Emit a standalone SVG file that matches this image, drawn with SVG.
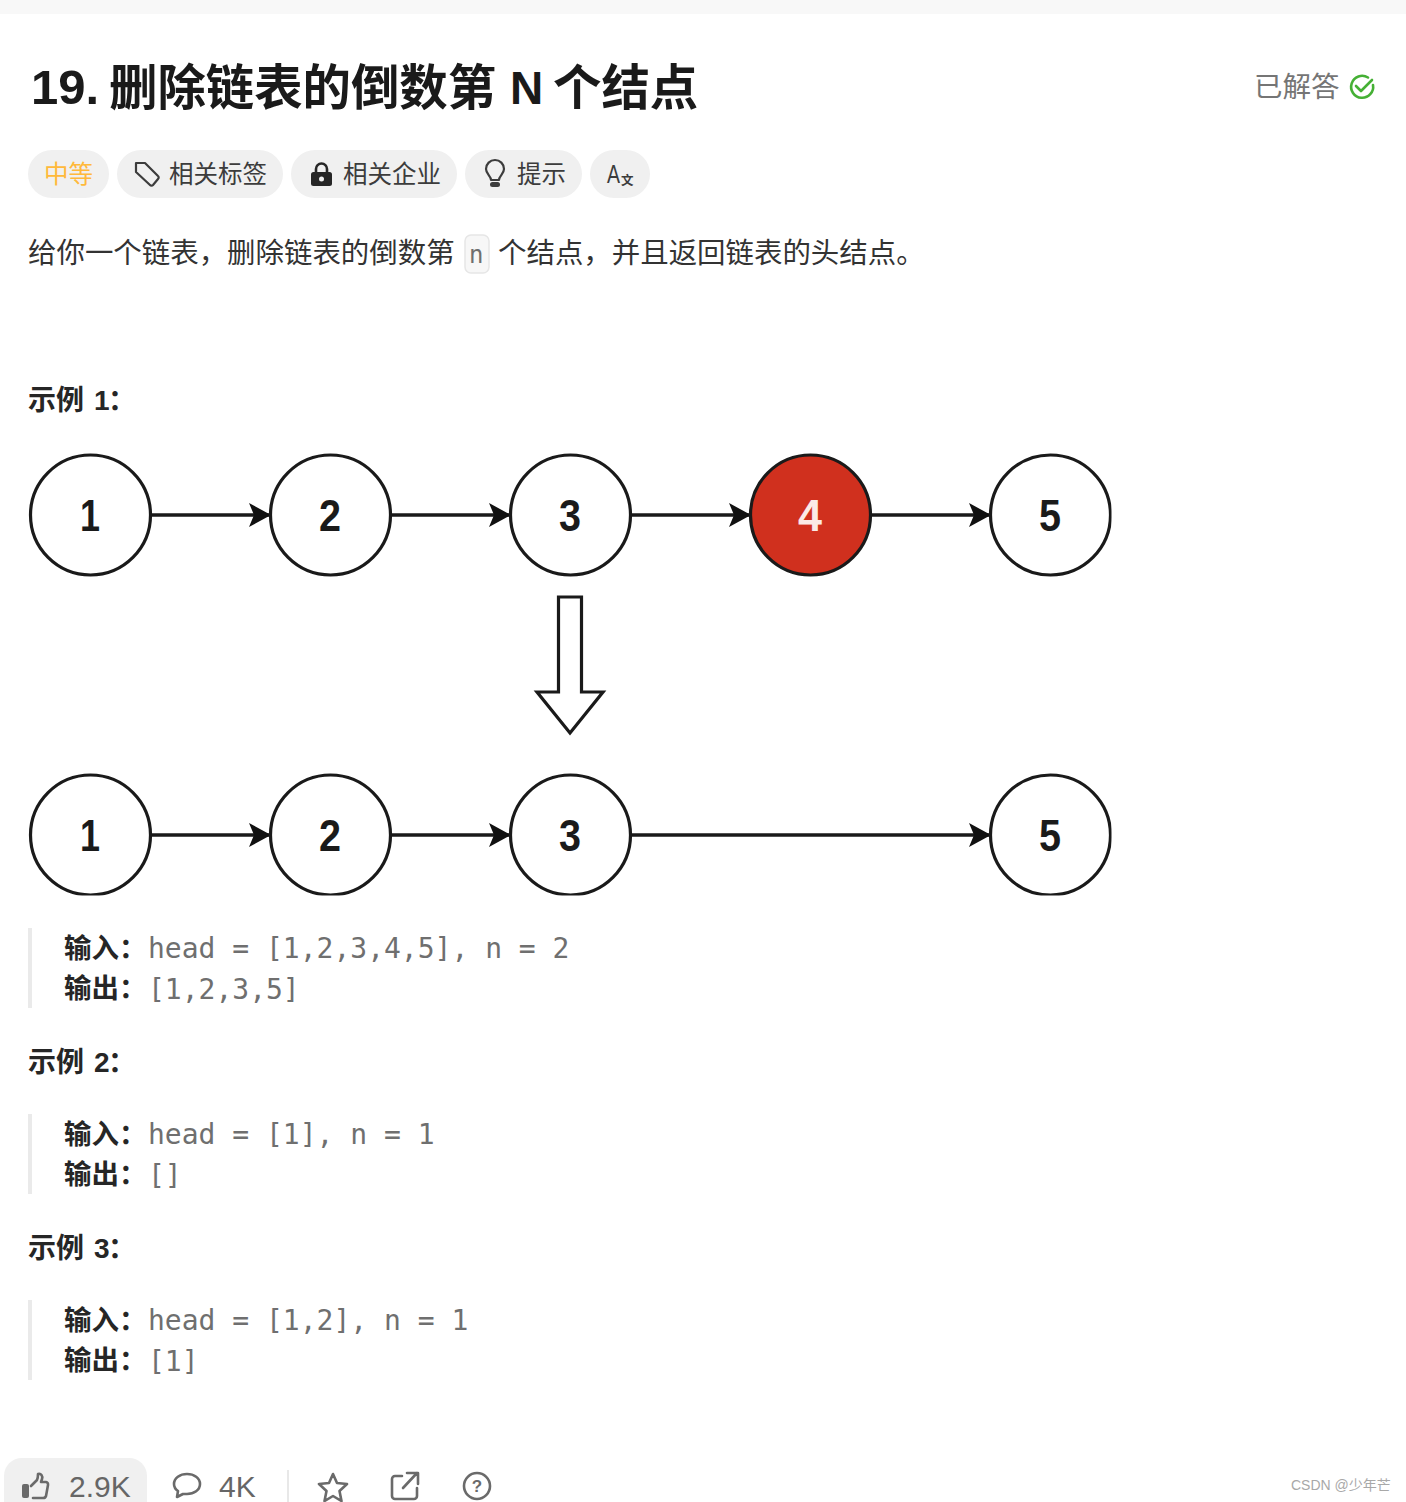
<svg xmlns="http://www.w3.org/2000/svg" width="1406" height="1502" viewBox="0 0 1406 1502">
<style>
text{font-family:"Liberation Sans","Noto Sans CJK SC",sans-serif}
.cjk{font-family:"Noto Sans CJK SC",sans-serif}
.title{font-size:48.400px;font-weight:700;fill:#1a1a1a}
.tag{font-size:24.500px;fill:#3c3c3c}
.pill{fill:#f0f0f0}
.body{font-size:28.450px;fill:#333}
.h{font-size:28px;font-weight:700;fill:#262626}
.lab{font-size:27.500px;font-weight:700;fill:#262626}
.mono{font-family:"DejaVu Sans Mono","Liberation Mono",monospace;font-size:28px;fill:#6f6f6f}
.bar{fill:#eaeaea}
.node{fill:#fff;stroke:#1a1a1a;stroke-width:3.200}
.num{font-size:44px;font-weight:700;fill:#1a1a1a;text-anchor:middle}
.edge{stroke:#1a1a1a;stroke-width:3.500;fill:none;marker-end:url(#ah)}
.ico{fill:none;stroke:#6a6a6a;stroke-width:2.600;stroke-linejoin:round;stroke-linecap:round}
.foot{font-size:30px;fill:#666}
</style>
<defs>
<marker id="ah" markerUnits="userSpaceOnUse" markerWidth="24" markerHeight="24" refX="22" refY="12" orient="auto"><path d="M0 0L22 12L0 24L5 12Z" fill="#111"/></marker>
</defs>
<rect width="1406" height="1502" fill="#fff"/>
<rect width="1406" height="14" fill="#f8f8f8"/>
<g id="header">
<text class="title" x="31" y="104" style="font-size:49px">19.</text>
<text class="title cjk" x="109" y="105">删除链表的倒数第</text>
<text class="title" x="510" y="104" style="font-size:46px">N</text>
<text class="title cjk" x="553" y="105">个结点</text>
<text x="1254" y="97" font-size="28.500" fill="#757575" class="cjk">已解答</text>
<path d="M1373 85a11 11 0 1 1-5-7.500" fill="none" stroke="#45b035" stroke-width="2.600" stroke-linecap="round"/>
<path d="M1356 86l5 5l11-11" fill="none" stroke="#45b035" stroke-width="2.600" stroke-linecap="round" stroke-linejoin="round"/>
</g>
<g id="tags">
<rect class="pill" x="28" y="150" width="81" height="48" rx="24"/>
<text x="44" y="183" font-size="24.500" fill="#ffb93b" class="cjk">中等</text>
<rect class="pill" x="117" y="150" width="166" height="48" rx="24"/>
<path d="M136 163v9l14 13a2 2 0 0 0 3 0l5-6a2 2 0 0 0 0-3l-13-13z" fill="none" stroke="#3c3c3c" stroke-width="2.200" stroke-linejoin="round"/>
<text class="tag cjk" x="169" y="183">相关标签</text>
<rect class="pill" x="291" y="150" width="166" height="48" rx="24"/>
<path d="M316 172v-3a5.500 5.500 0 0 1 11 0v3" fill="none" stroke="#262626" stroke-width="2.600"/>
<rect x="311" y="172" width="21" height="14" rx="2.500" fill="#262626"/><circle cx="321.500" cy="179" r="2.500" fill="#f0f0f0"/>
<text class="tag cjk" x="343" y="183">相关企业</text>
<rect class="pill" x="465" y="150" width="117" height="48" rx="24"/>
<path d="M491 180c0-4-5-6-5-11a9 9 0 0 1 18 0c0 5-5 7-5 11z" fill="none" stroke="#3c3c3c" stroke-width="2.200" stroke-linejoin="round"/>
<rect x="490" y="182" width="10" height="5" rx="2.500" fill="#3c3c3c"/>
<text class="tag cjk" x="517" y="183">提示</text>
<rect class="pill" x="590" y="150" width="60" height="48" rx="24"/>
<text x="607" y="183" font-size="25" fill="#3c3c3c" textLength="13" lengthAdjust="spacingAndGlyphs">A</text><text x="621" y="185" font-size="12.500" font-weight="700" fill="#3c3c3c" class="cjk">文</text>
</g>
<g id="description">
<text class="body cjk" x="28" y="263">给你一个链表，删除链表的倒数第</text>
<rect x="465" y="235" width="24" height="38" rx="6" fill="#f7f7f7" stroke="#e6e6e6" stroke-width="1.500"/>
<text x="469" y="263" font-size="24" fill="#6f6f6f" style="font-family:'DejaVu Sans Mono',monospace">n</text>
<text class="body cjk" x="498" y="263">个结点，并且返回链表的头结点。</text>
<text class="h cjk" x="28" y="410">示例</text><text class="h" x="94" y="410">1</text><text class="h cjk" x="108" y="410">：</text>
</g>
<g id="connectors">
<path class="edge" d="M151 515H271"/>
<path class="edge" d="M391 515H511"/>
<path class="edge" d="M631 515H751"/>
<path class="edge" d="M871 515H991"/>
<path class="edge" d="M151 835H271"/>
<path class="edge" d="M391 835H511"/>
<path class="edge" d="M631 835H991"/>
</g>
<g id="n1"><circle class="node" cx="90.500" cy="515" r="60"/><text class="num" x="90" y="531" textLength="20" lengthAdjust="spacingAndGlyphs">1</text></g>
<g id="n2"><circle class="node" cx="330.500" cy="515" r="60"/><text class="num" x="330" y="531" textLength="22" lengthAdjust="spacingAndGlyphs">2</text></g>
<g id="n3"><circle class="node" cx="570.500" cy="515" r="60"/><text class="num" x="570" y="531" textLength="22" lengthAdjust="spacingAndGlyphs">3</text></g>
<g id="n4"><circle class="node" cx="810.500" cy="515" r="60" style="fill:#d0301e"/><text class="num" x="810" y="531" textLength="24" lengthAdjust="spacingAndGlyphs" style="fill:#fbeae6">4</text></g>
<g id="n5"><circle class="node" cx="1050.500" cy="515" r="60"/><text class="num" x="1050" y="531" textLength="22" lengthAdjust="spacingAndGlyphs">5</text></g>
<g id="down-arrow"><path d="M558.500 597H581.500V692H603L570 733L537 692H558.500Z" fill="#fff" stroke="#1a1a1a" stroke-width="3.200"/></g>
<g id="m1"><circle class="node" cx="90.500" cy="835" r="60"/><text class="num" x="90" y="851" textLength="20" lengthAdjust="spacingAndGlyphs">1</text></g>
<g id="m2"><circle class="node" cx="330.500" cy="835" r="60"/><text class="num" x="330" y="851" textLength="22" lengthAdjust="spacingAndGlyphs">2</text></g>
<g id="m3"><circle class="node" cx="570.500" cy="835" r="60"/><text class="num" x="570" y="851" textLength="22" lengthAdjust="spacingAndGlyphs">3</text></g>
<g id="m5"><circle class="node" cx="1050.500" cy="835" r="60"/><text class="num" x="1050" y="851" textLength="22" lengthAdjust="spacingAndGlyphs">5</text></g>
<rect x="1111.500" y="450" width="8" height="450" fill="#fff"/>
<rect x="20" y="895.500" width="1100" height="4" fill="#fff"/>
<g id="examples">
<rect class="bar" x="28" y="928" width="4" height="80"/>
<text class="lab cjk" x="64" y="958">输入：</text><text class="mono" x="148" y="958">head = [1,2,3,4,5], n = 2</text>
<text class="lab cjk" x="64" y="998">输出：</text><text class="mono" x="148" y="999">[1,2,3,5]</text>
<text class="h cjk" x="28" y="1072">示例</text><text class="h" x="94" y="1072">2</text><text class="h cjk" x="108" y="1072">：</text>
<rect class="bar" x="28" y="1114" width="4" height="80"/>
<text class="lab cjk" x="64" y="1144">输入：</text><text class="mono" x="148" y="1144">head = [1], n = 1</text>
<text class="lab cjk" x="64" y="1184">输出：</text><text class="mono" x="148" y="1185">[]</text>
<text class="h cjk" x="28" y="1258">示例</text><text class="h" x="94" y="1258">3</text><text class="h cjk" x="108" y="1258">：</text>
<rect class="bar" x="28" y="1300" width="4" height="80"/>
<text class="lab cjk" x="64" y="1330">输入：</text><text class="mono" x="148" y="1330">head = [1,2], n = 1</text>
<text class="lab cjk" x="64" y="1370">输出：</text><text class="mono" x="148" y="1371">[1]</text>
</g>
<g id="footer">
<path d="M4 1502V1476a18 18 0 0 1 18-18H129a18 18 0 0 1 18 18V1502Z" fill="#f0f0f0"/>
<rect x="22" y="1484" width="7" height="14" rx="2" fill="#6a6a6a"/>
<path class="ico" d="M31 1486l6-6c1-2 1-4 1-6c3-1 5 2 4 5l-1 3h5a2.500 2.500 0 0 1 2 3l-2 11a3 3 0 0 1-3 2H33"/>
<text class="foot" x="69" y="1497">2.9K</text>
<path class="ico" d="M187 1474c7 0 13 4 13 10s-6 10-13 10c-2 0-3 0-4 0l-6 3l1-6c-3-2-4-4-4-7c0-6 6-10 13-10z"/>
<text class="foot" x="219" y="1497">4K</text>
<rect x="287" y="1470" width="2" height="32" fill="#e8e8e8"/>
<path class="ico" d="M333 1474l4 9l10 1l-7.500 7l2 10l-8.500-5l-8.500 5l2-10l-7.500-7l10-1z"/>
<path class="ico" d="M402 1476H395a3 3 0 0 0-3 3V1496a3 3 0 0 0 3 3H414a3 3 0 0 0 3-3V1488M403 1488L417 1473M407 1473H418V1484"/>
<circle class="ico" cx="477" cy="1486" r="13"/>
<text x="477" y="1492" font-size="17" font-weight="700" fill="#6a6a6a" text-anchor="middle">?</text>
<text x="1291" y="1490" font-size="14" fill="#a8a8a8">CSDN @<tspan class="cjk">少年芒</tspan></text>
</g>
</svg>
